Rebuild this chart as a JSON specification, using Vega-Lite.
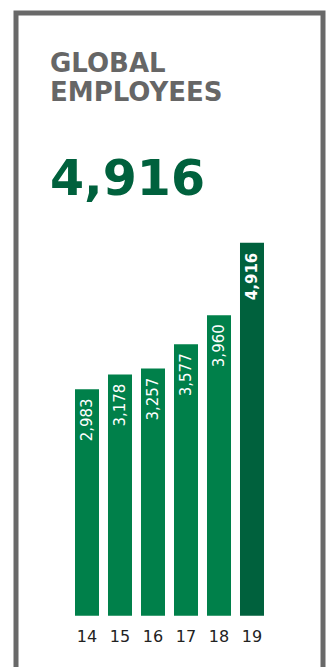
{
  "$schema": "https://vega.github.io/schema/vega-lite/v6.json",
  "width": 307,
  "height": 700,
  "autosize": "none",
  "padding": {"left": 16, "top": 13, "right": 5, "bottom": 0},
  "background": "white",
  "config": {"view": {"stroke": "#696969", "strokeWidth": 5}},
  "title": {
    "text": ["GLOBAL", "EMPLOYEES"],
    "subtitle": "4,916",
    "anchor": "start",
    "frame": "group",
    "orient": "top",
    "offset": -192,
    "dx": 34,
    "font": "DejaVu Sans",
    "fontSize": 26,
    "fontWeight": "bold",
    "color": "#666666",
    "lineHeight": 29,
    "subtitleFont": "DejaVu Sans",
    "subtitleFontSize": 49,
    "subtitleFontWeight": "bold",
    "subtitleColor": "#00613d",
    "subtitlePadding": 50
  },
  "data": {
    "values": [
      {"year": "14", "employees": 2983},
      {"year": "15", "employees": 3178},
      {"year": "16", "employees": 3257},
      {"year": "17", "employees": 3577},
      {"year": "18", "employees": 3960},
      {"year": "19", "employees": 4916}
    ]
  },
  "encoding": {
    "x": {
      "field": "year",
      "type": "ordinal",
      "scale": {"range": [59, 248], "paddingInner": 0.2727, "paddingOuter": 0},
      "axis": null
    }
  },
  "layer": [
    {
      "mark": {"type": "bar"},
      "encoding": {
        "y": {
          "field": "employees",
          "type": "quantitative",
          "scale": {"domain": [-1282, 7943], "nice": false, "zero": false},
          "axis": null
        },
        "color": {
          "condition": {"test": "datum.year === '19'", "value": "#00613d"},
          "value": "#00804a"
        }
      }
    },
    {
      "transform": [{"filter": "datum.year !== '19'"}],
      "mark": {
        "type": "text",
        "angle": 270,
        "align": "right",
        "baseline": "middle",
        "dx": -9,
        "font": "DejaVu Sans",
        "fontSize": 15,
        "color": "white"
      },
      "encoding": {
        "y": {"field": "employees", "type": "quantitative"},
        "text": {"field": "employees", "type": "quantitative", "format": ","}
      }
    },
    {
      "transform": [{"filter": "datum.year === '19'"}],
      "mark": {
        "type": "text",
        "angle": 270,
        "align": "right",
        "baseline": "middle",
        "dx": -10,
        "font": "DejaVu Sans",
        "fontSize": 15,
        "fontWeight": "bold",
        "color": "white"
      },
      "encoding": {
        "y": {"field": "employees", "type": "quantitative"},
        "text": {"field": "employees", "type": "quantitative", "format": ","}
      }
    },
    {
      "mark": {
        "type": "text",
        "align": "center",
        "baseline": "top",
        "dy": 13,
        "font": "DejaVu Sans",
        "fontSize": 16,
        "color": "#222222"
      },
      "encoding": {
        "y": {"datum": 0, "type": "quantitative"},
        "text": {"field": "year", "type": "nominal"}
      }
    }
  ]
}
